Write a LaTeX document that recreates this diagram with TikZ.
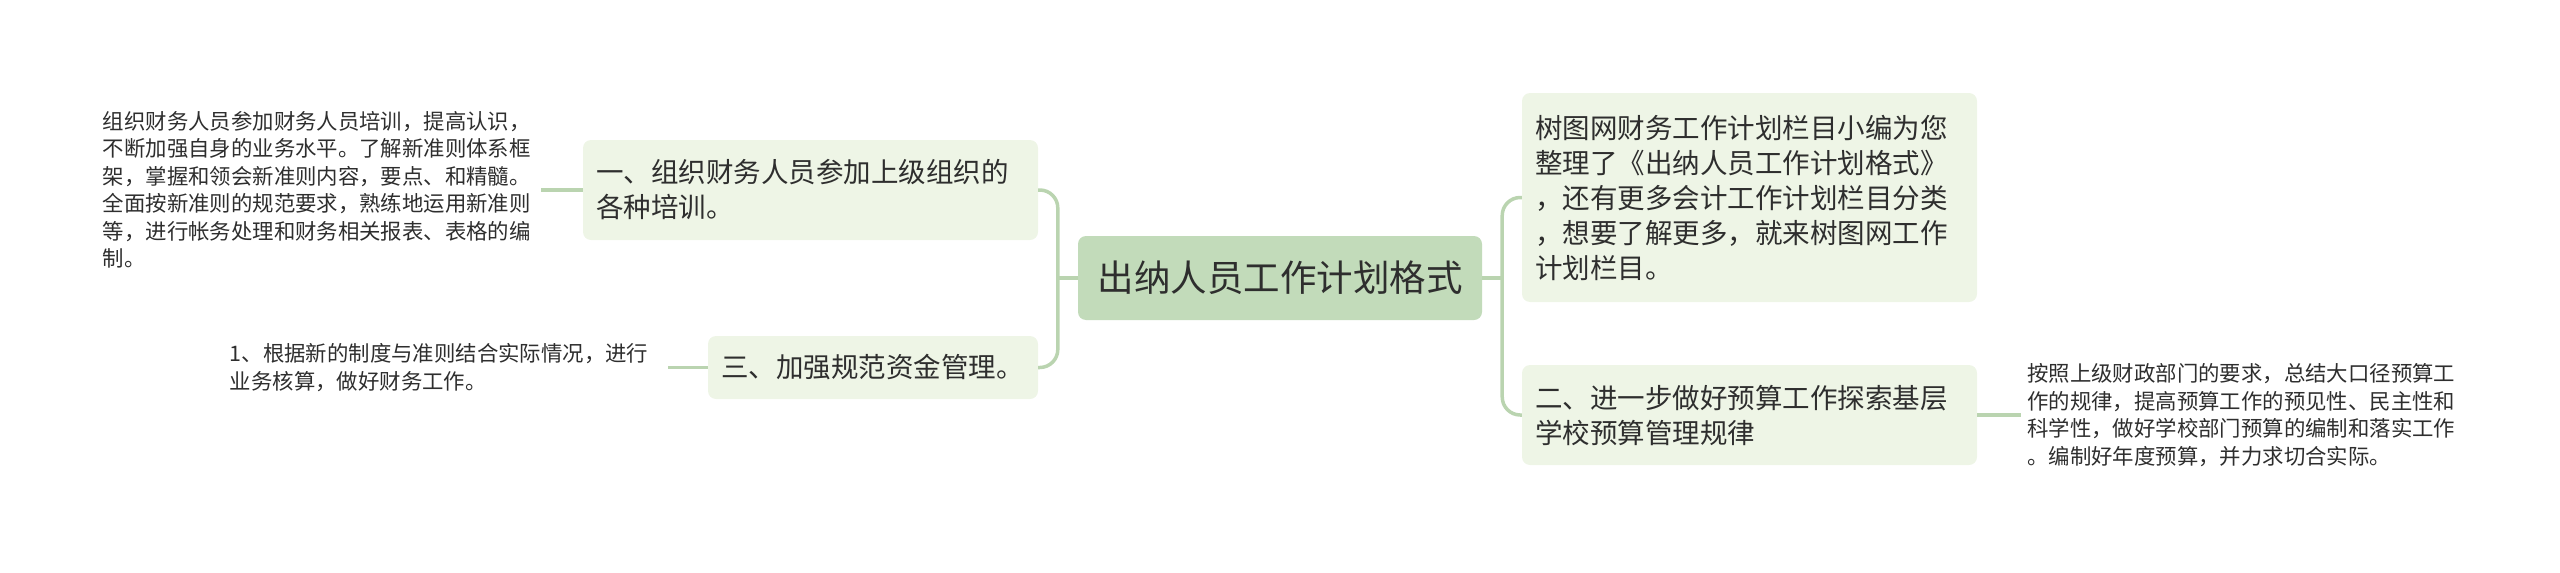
\documentclass[tikz,border=0pt]{standalone}
\usepackage{fontspec}
\setmainfont{Noto Sans CJK SC}
\definecolor{rootfill}{HTML}{C2DBBA}
\definecolor{topicfill}{HTML}{EEF5E6}
\definecolor{linkgreen}{HTML}{BAD4B0}
\definecolor{inkgray}{HTML}{2E2E2E}
\begin{document}
\begin{tikzpicture}[x=1pt,y=-1pt,every node/.style={text=inkgray},
    link/.style={draw=linkgreen,line width=3.5pt,rounded corners=18pt},
    rootbox/.style={fill=rootfill,rounded corners=8pt,minimum width=404pt,minimum height=84pt,font=\fontsize{36.5pt}{44pt}\selectfont},
    topicbox/.style={fill=topicfill,rounded corners=8pt,inner xsep=13pt,align=left,font=\fontsize{27.5pt}{35pt}\selectfont},
    leaftext/.style={inner xsep=6pt,text width=432pt,align=left,font=\fontsize{21.4pt}{27.5pt}\selectfont}]
    \useasboundingbox (0,0) rectangle (2560,573);
    \node[rootbox] (root) at (1280,278) {出纳人员工作计划格式};
    % left side
    \node[topicbox,text width=429pt,minimum height=100pt] (train) at (810.5,190) {一、组织财务人员参加上级组织的\\各种培训。};
    \node[topicbox,text width=304pt,minimum height=63pt] (fund) at (873,367.5) {三、加强规范资金管理。};
    \node[leaftext,anchor=east] (trainleaf) at (541,190) {组织财务人员参加财务人员培训，提高认识，\\不断加强自身的业务水平。了解新准则体系框\\架，掌握和领会新准则内容，要点、和精髓。\\全面按新准则的规范要求，熟练地运用新准则\\等，进行帐务处理和财务相关报表、表格的编\\制。};
    \node[leaftext,anchor=east] (fundleaf) at (668,367.5) {1、根据新的制度与准则结合实际情况，进行\\业务核算，做好财务工作。};
    % right side
    \node[topicbox,text width=429pt,minimum height=209pt] (intro) at (1749.5,197.5) {树图网财务工作计划栏目小编为您\\整理了《出纳人员工作计划格式》\\，还有更多会计工作计划栏目分类\\，想要了解更多，就来树图网工作\\计划栏目。};
    \node[topicbox,text width=429pt,minimum height=100pt] (budget) at (1749.5,415) {二、进一步做好预算工作探索基层\\学校预算管理规律};
    \node[leaftext,anchor=west] (budgetleaf) at (2021,415) {按照上级财政部门的要求，总结大口径预算工\\作的规律，提高预算工作的预见性、民主性和\\科学性，做好学校部门预算的编制和落实工作\\。编制好年度预算，并力求切合实际。};
    % connectors
    \coordinate (lj) at ([xshift=-20pt]root.west);
    \coordinate (rj) at ([xshift=20pt]root.east);
    \draw[link] (root.west) -- (lj);
    \draw[link] (train.east) -| (lj) |- (fund.east);
    \draw[link] (root.east) -- (rj);
    \draw[link] (intro.west) -| (rj) |- (budget.west);
    \draw[link] (trainleaf.east) -- (train.west);
    \draw[link] (fundleaf.east) -- (fund.west);
    \draw[link] (budget.east) -- (budgetleaf.west);
\end{tikzpicture}
\end{document}
